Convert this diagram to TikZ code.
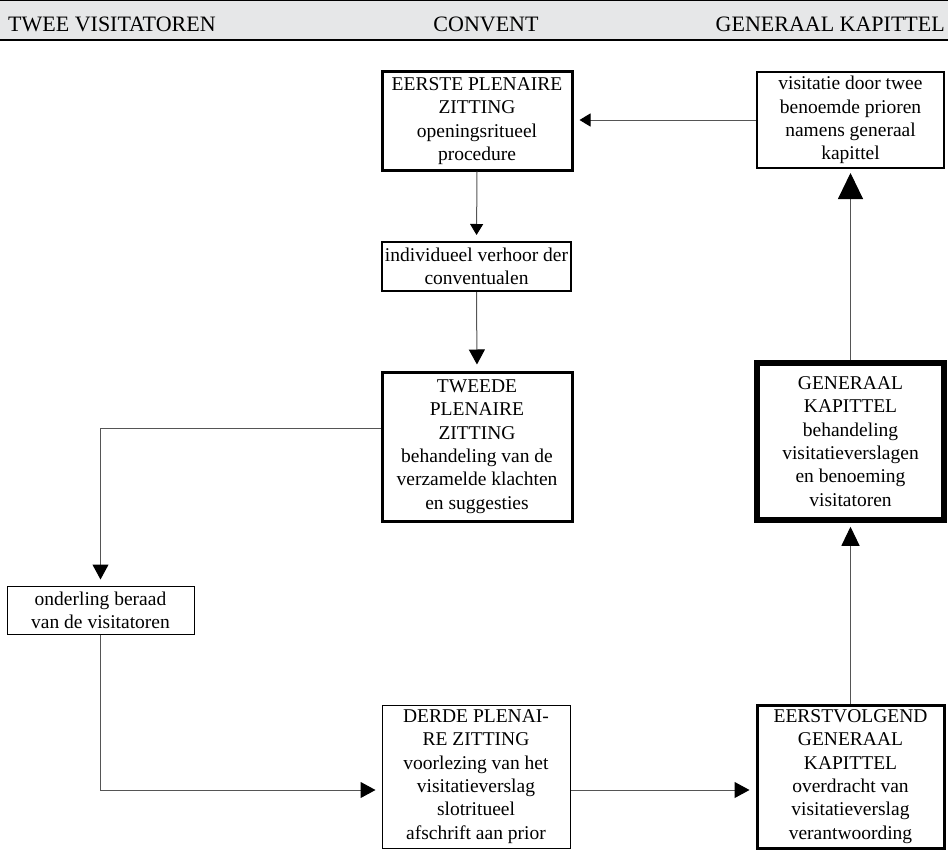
\documentclass[tikz,border=0pt]{standalone}
\usepackage{fontspec}
\setmainfont{Liberation Serif}
\usetikzlibrary{arrows.meta}
\definecolor{hdrgray}{HTML}{E6E7E8}
\definecolor{linegray}{HTML}{555555}
\tikzset{
  box/.style={draw=black, fill=white, align=center, inner sep=1pt,
    font=\fontsize{19.5}{23.3}\selectfont},
  thin/.style={line width=1pt},
  medium/.style={line width=2pt},
  heavy/.style={line width=3pt},
  heaviest/.style={line width=5.5pt},
  conn/.style={draw=linegray, line width=1pt},
  tipS/.style={-{Triangle[length=11pt,width=13pt,color=black]}, shorten >=6pt},
  tipM/.style={-{Triangle[length=15pt,width=16pt,color=black]}, shorten >=6pt},
  tipL/.style={-{Triangle[length=19pt,width=18pt,color=black]}, shorten >=4pt},
  tipXL/.style={-{Triangle[length=26pt,width=25pt,color=black]}, shorten >=4pt},
  hdrtext/.style={font=\fontsize{22}{24}\selectfont, inner sep=0pt}
}
\begin{document}
\begin{tikzpicture}[x=1pt, y=-1pt]
\useasboundingbox (0,0) rectangle (948,851);

% column header band
\fill[hdrgray] (0,0) rectangle (948,40);
\draw[line width=1pt] (0,0.5) -- (948,0.5);
\draw[line width=1.6pt] (0,40) -- (948,40);
\node[hdrtext, anchor=base west] (h1) at (8,32) {TWEE VISITATOREN};
\node[hdrtext, anchor=base] (h2) at (486,32) {CONVENT};
\node[hdrtext, anchor=base east] (h3) at (945,32) {GENERAAL KAPITTEL};

% boxes
\node[box, heavy, minimum width=190pt, minimum height=98pt] (eerste) at (477,121)
  {EERSTE PLENAIRE\\ZITTING\\openingsritueel\\procedure};
\node[box, medium, minimum width=187pt, minimum height=96pt] (visit) at (850.5,120)
  {visitatie door twee\\benoemde prioren\\namens generaal\\kapittel};
\node[box, medium, minimum width=189pt, minimum height=49pt] (verhoor) at (476.5,266.5)
  {individueel verhoor der\\conventualen};
\node[box, heavy, minimum width=190pt, minimum height=149pt] (tweede) at (477,446.5)
  {TWEEDE\\PLENAIRE\\ZITTING\\behandeling van de\\verzamelde klachten\\en suggesties};
\node[box, thin, minimum width=187pt, minimum height=48pt] (beraad) at (100.5,610)
  {onderling beraad\\van de visitatoren};
\node[box, thin, minimum width=188pt, minimum height=143pt] (derde) at (476,776.5)
  {DERDE PLENAI-\\RE ZITTING\\voorlezing van het\\visitatieverslag\\slotritueel\\afschrift aan prior};
\node[box, heavy, minimum width=187pt, minimum height=143pt] (volgend) at (850.5,776.5)
  {EERSTVOLGEND\\GENERAAL\\KAPITTEL\\overdracht van\\visitatieverslag\\verantwoording};
\node[box, heaviest, minimum width=187pt, minimum height=157pt] (kapittel) at (850.5,441.5)
  {GENERAAL\\KAPITTEL\\behandeling\\visitatieverslagen\\en benoeming\\visitatoren};

% connectors
\draw[conn, tipS] (visit.west) -- (visit.west -| eerste.east);
\draw[conn, tipS] (eerste.south) -- (verhoor.north);
\draw[conn, tipM] (verhoor.south) -- (tweede.north);
\draw[conn, tipM] ([yshift=18.5pt]tweede.west) -| (beraad.north);
\draw[conn, tipM] (beraad.south) |- ([yshift=-13.5pt]derde.west);
\draw[conn, tipM] ([yshift=-13.5pt]derde.east) -- ([yshift=-13.5pt]volgend.west);
\draw[conn, tipL] (volgend.north) -- (kapittel.south);
\draw[conn, tipXL] (kapittel.north) -- (visit.south);
\end{tikzpicture}
\end{document}
